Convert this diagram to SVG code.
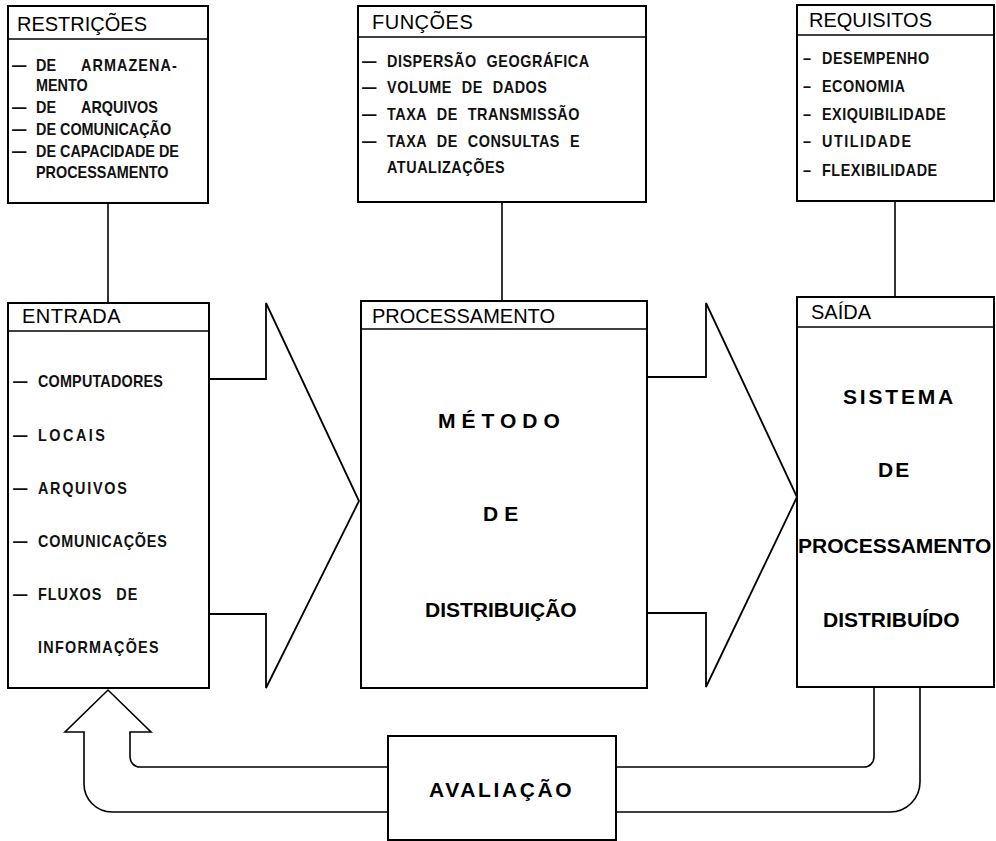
<svg xmlns="http://www.w3.org/2000/svg" width="996" height="841" viewBox="0 0 996 841">
  <style>
    .box { fill: #fff; stroke: #000; stroke-width: 2; }
    .sep { stroke: #000; stroke-width: 1.6; }
    .wire { fill: none; stroke: #000; stroke-width: 1.6; }
    .flow { fill: #fff; stroke: #000; stroke-width: 1.8; stroke-linejoin: miter; }
    .hdr { font-family: "Liberation Sans", Arial, sans-serif; font-size: 20px; fill: #000; }
    .item { font-family: "Liberation Sans", Arial, sans-serif; font-size: 16px; font-weight: bold; fill: #111; }
    .big { font-family: "Liberation Sans", Arial, sans-serif; font-size: 21px; font-weight: bold; fill: #000; }
  </style>

  <rect width="996" height="841" fill="#fff"/>

  <!-- connectors: vertical links, block arrows and feedback loop -->
  <g id="connectors">
    <line class="wire" x1="108" y1="203" x2="108" y2="303"/>
    <line class="wire" x1="502" y1="202" x2="502" y2="301"/>
    <line class="wire" x1="895" y1="201" x2="895" y2="297"/>
    <polyline class="flow" points="209,379 266,379 266,303 359,501 266,688 266,614 209,614"/>
    <polyline class="flow" points="647,377 706,377 706,303 797,497 706,687 706,613 647,613"/>
    <path class="wire" d="M874,687 V757 A10,10 0 0 1 864,767 H140 A10,10 0 0 1 130,757 V732 H151 L108,690 L65,732 H84 V784 A28,28 0 0 0 112,812 H890 A30,30 0 0 0 920,782 V687"/>
  </g>

  <!-- list texts are set in a horizontally condensed group (scale 0.9), so x values are divided by 0.9 -->
  <g id="restricoes">
    <rect class="box" x="8" y="6" width="200" height="197"/>
    <line class="sep" x1="8" y1="39" x2="208" y2="39"/>
    <text class="hdr" x="17" y="31">RESTRIÇÕES</text>
    <g class="item" transform="scale(0.9 1)">
      <text x="13.3" y="71">—</text><text x="40" y="71">DE</text><text x="90" y="71" letter-spacing="1.2">ARMAZENA-</text>
      <text x="40" y="91">MENTO</text>
      <text x="13.3" y="113">—</text><text x="40" y="113">DE</text><text x="90" y="113">ARQUIVOS</text>
      <text x="13.3" y="135">—</text><text x="40" y="135">DE COMUNICAÇÃO</text>
      <text x="13.3" y="157">—</text><text x="40" y="157">DE CAPACIDADE DE</text>
      <text x="40" y="178">PROCESSAMENTO</text>
    </g>
  </g>

  <g id="funcoes">
    <rect class="box" x="358" y="6" width="288" height="196"/>
    <line class="sep" x1="358" y1="37" x2="646" y2="37"/>
    <text class="hdr" x="372" y="29" letter-spacing="0.5">FUNÇÕES</text>
    <g class="item" transform="scale(0.9 1)" letter-spacing="0.6" word-spacing="6">
      <text x="402.2" y="67">—</text><text x="430" y="67">DISPERSÃO GEOGRÁFICA</text>
      <text x="402.2" y="93">—</text><text x="430" y="93">VOLUME DE DADOS</text>
      <text x="402.2" y="120">—</text><text x="430" y="120">TAXA DE TRANSMISSÃO</text>
      <text x="402.2" y="147">—</text><text x="430" y="147">TAXA DE CONSULTAS E</text>
      <text x="430" y="173">ATUALIZAÇÕES</text>
    </g>
  </g>

  <g id="requisitos">
    <rect class="box" x="797" y="5" width="197" height="196"/>
    <line class="sep" x1="797" y1="35" x2="994" y2="35"/>
    <text class="hdr" x="809" y="27">REQUISITOS</text>
    <g class="item" transform="scale(0.9 1)" letter-spacing="0.6">
      <text x="892.2" y="64">–</text><text x="913.3" y="64">DESEMPENHO</text>
      <text x="892.2" y="92">–</text><text x="913.3" y="92">ECONOMIA</text>
      <text x="892.2" y="120">–</text><text x="913.3" y="120">EXIQUIBILIDADE</text>
      <text x="892.2" y="147">–</text><text x="913.3" y="147" letter-spacing="1.7">UTILIDADE</text>
      <text x="892.2" y="176">–</text><text x="913.3" y="176">FLEXIBILIDADE</text>
    </g>
  </g>

  <g id="entrada">
    <rect class="box" x="8" y="303" width="201" height="385"/>
    <line class="sep" x1="8" y1="331" x2="209" y2="331"/>
    <text class="hdr" x="22" y="323" letter-spacing="0.5">ENTRADA</text>
    <g class="item" transform="scale(0.9 1)">
      <text x="14.4" y="387">—</text><text x="42.2" y="387" letter-spacing="0.2">COMPUTADORES</text>
      <text x="14.4" y="441">—</text><text x="42.2" y="441" letter-spacing="2.8">LOCAIS</text>
      <text x="14.4" y="494">—</text><text x="42.2" y="494" letter-spacing="1.9">ARQUIVOS</text>
      <text x="14.4" y="547">—</text><text x="42.2" y="547" letter-spacing="0.9">COMUNICAÇÕES</text>
      <text x="14.4" y="600">—</text><text x="42.2" y="600" letter-spacing="1.1" word-spacing="10">FLUXOS DE</text>
      <text x="42.2" y="653" letter-spacing="1.4">INFORMAÇÕES</text>
    </g>
  </g>

  <g id="processamento">
    <rect class="box" x="361" y="301" width="286" height="387"/>
    <line class="sep" x1="361" y1="329" x2="647" y2="329"/>
    <text class="hdr" x="372" y="323">PROCESSAMENTO</text>
    <text class="big" x="438" y="428" letter-spacing="6">MÉTODO</text>
    <text class="big" x="483" y="521" letter-spacing="6">DE</text>
    <text class="big" x="425" y="617">DISTRIBUIÇÃO</text>
  </g>

  <g id="saida">
    <rect class="box" x="797" y="297" width="197" height="390"/>
    <line class="sep" x1="797" y1="327" x2="994" y2="327"/>
    <text class="hdr" x="811" y="319">SAÍDA</text>
    <text class="big" x="843" y="404" letter-spacing="2.8">SISTEMA</text>
    <text class="big" x="878" y="477" letter-spacing="2">DE</text>
    <text class="big" x="798" y="553">PROCESSAMENTO</text>
    <text class="big" x="823" y="627">DISTRIBUÍDO</text>
  </g>

  <g id="avaliacao">
    <rect class="box" x="388" y="736" width="228" height="104"/>
    <text class="big" x="429" y="797" letter-spacing="2.6">AVALIAÇÃO</text>
  </g>
</svg>
